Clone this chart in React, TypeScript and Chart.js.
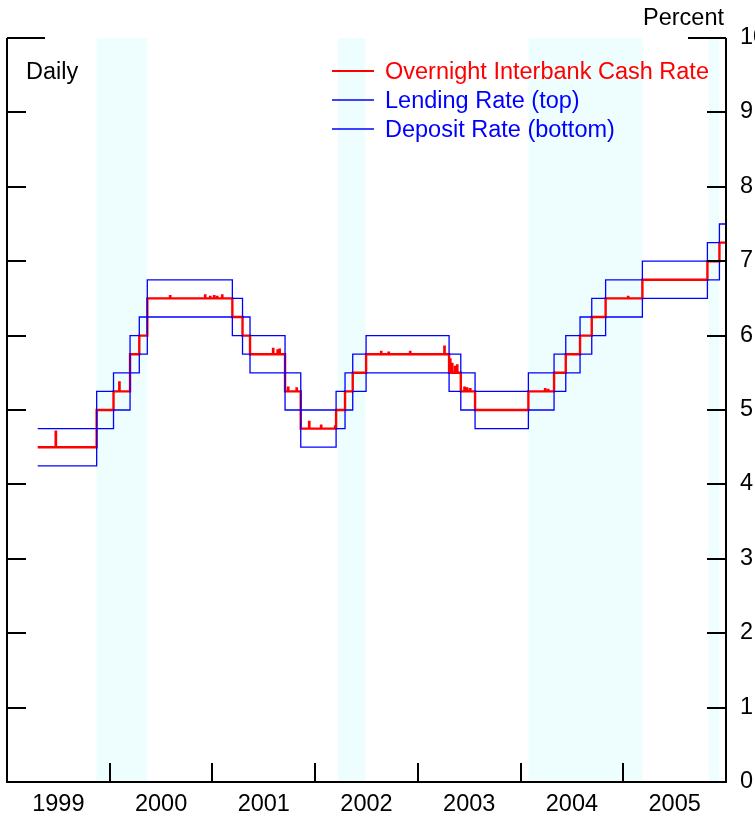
import React, { useEffect, useRef } from "react";
import { Chart, registerables } from "chart.js";

Chart.register(...registerables);

// Step-change dates (decimal years) and the rates that apply from each date
const stepDates = [1999.299, 1999.873, 2000.037, 2000.198, 2000.288, 2000.366, 2001.194, 2001.293, 2001.366, 2001.707, 2001.86, 2002.204, 2002.291, 2002.366, 2002.496, 2003.304, 2003.418, 2003.557, 2004.076, 2004.326, 2004.44, 2004.579, 2004.693, 2004.828, 2005.186, 2005.819, 2005.936, 2005.991];
const cashRate = [4.5, 5.0, 5.25, 5.75, 6.0, 6.5, 6.25, 6.0, 5.75, 5.25, 4.75, 5.0, 5.25, 5.5, 5.75, 5.5, 5.25, 5.0, 5.25, 5.5, 5.75, 6.0, 6.25, 6.5, 6.75, 7.0, 7.25, 7.25];
const lendingRate = [4.75, 5.25, 5.5, 6.0, 6.25, 6.75, 6.5, 6.25, 6.0, 5.5, 5.0, 5.25, 5.5, 5.75, 6.0, 5.75, 5.5, 5.25, 5.5, 5.75, 6.0, 6.25, 6.5, 6.75, 7.0, 7.25, 7.5, 7.5];
const depositRate = [4.25, 4.75, 5.0, 5.5, 5.75, 6.25, 6.0, 5.75, 5.5, 5.0, 4.5, 4.75, 5.0, 5.25, 5.5, 5.25, 5.0, 4.75, 5.0, 5.25, 5.5, 5.75, 6.0, 6.25, 6.5, 6.75, 7.0, 7.0];

// Daily spikes in the overnight cash rate
const spikeDates = [1999.474, 2000.093, 2000.587, 2000.928, 2000.977, 2001.016, 2001.045, 2001.094, 2001.59, 2001.634, 2001.653, 2001.736, 2001.819, 2001.941, 2002.057, 2002.194, 2002.642, 2002.715, 2002.924, 2003.258, 2003.314, 2003.333, 2003.362, 2003.382, 2003.453, 2003.479, 2003.509, 2004.238, 2004.267, 2005.046];
const spikePeaks = [4.71, 5.37, 6.53, 6.54, 6.52, 6.53, 6.52, 6.54, 5.82, 5.8, 5.81, 5.3, 5.29, 4.84, 4.79, 4.78, 5.78, 5.77, 5.78, 5.85, 5.68, 5.62, 5.58, 5.6, 5.3, 5.29, 5.28, 5.28, 5.27, 6.52];

// Shaded periods (tightening)
const shadeStart = [1999.87, 2002.22, 2004.076, 2005.83];
const shadeEnd = [2000.366, 2002.49, 2005.186, 2005.935];

const yearLabels = ["1999", "2000", "2001", "2002", "2003", "2004", "2005"];
const yTicks = [0, 1, 2, 3, 4, 5, 6, 7, 8, 9, 10];

const legendLabels = ["Overnight Interbank Cash Rate", "Lending Rate (top)", "Deposit Rate (bottom)"];
const legendColors = ["#ff0000", "#0000ff", "#0000ff"];

const FONT = '23.5px "Liberation Sans", Arial, sans-serif';

function baseAt(d: number): number {
  let v = cashRate[0];
  for (let i = 0; i < stepDates.length; i++) {
    if (stepDates[i] <= d) v = cashRate[i];
  }
  return v;
}

function buildCash() {
  const pts: { x: number; y: number }[] = stepDates.map((d, i) => ({ x: d, y: cashRate[i] }));
  spikeDates.forEach((d, i) => {
    pts.push({ x: d, y: spikePeaks[i] });
    pts.push({ x: d + 0.003, y: baseAt(d) });
  });
  pts.sort((a, b) => a.x - b.x);
  return pts;
}

const decorPlugin = {
  id: "decor",
  beforeDatasetsDraw(chart: any) {
    const { ctx, chartArea, scales } = chart;
    const xs = scales.x;
    ctx.save();
    ctx.fillStyle = "#eefefe";
    shadeStart.forEach((s, i) => {
      const x0 = xs.getPixelForValue(s);
      const x1 = xs.getPixelForValue(shadeEnd[i]);
      ctx.fillRect(x0, chartArea.top, x1 - x0, chartArea.bottom - chartArea.top);
    });
    ctx.restore();
  },
  afterDatasetsDraw(chart: any) {
    const { ctx, chartArea, scales } = chart;
    const xs = scales.x;
    const ys = scales.y;
    const L = chartArea.left;
    const R = chartArea.right;
    const T = chartArea.top;
    const B = chartArea.bottom;
    ctx.save();
    ctx.strokeStyle = "#000";
    ctx.lineWidth = 2;
    ctx.lineCap = "butt";
    ctx.beginPath();
    ctx.moveTo(L, T);
    ctx.lineTo(L, B);
    ctx.lineTo(R, B);
    ctx.lineTo(R, T);
    ctx.stroke();
    // y ticks
    ctx.fillStyle = "#000";
    ctx.font = FONT;
    ctx.textAlign = "left";
    ctx.textBaseline = "alphabetic";
    yTicks.forEach((t) => {
      const y = Math.round(ys.getPixelForValue(t));
      const len = t === 10 ? 38 : 19;
      if (t !== 0) {
        ctx.beginPath();
        ctx.moveTo(L, y);
        ctx.lineTo(L + len, y);
        ctx.moveTo(R, y);
        ctx.lineTo(R - len, y);
        ctx.stroke();
      }
      ctx.fillText(String(t), R + 14, y + 6);
    });
    // x ticks at year boundaries
    yearLabels.forEach((lab, i) => {
      const yr = parseInt(lab, 10);
      if (i > 0) {
        const x = Math.round(xs.getPixelForValue(yr));
        ctx.beginPath();
        ctx.moveTo(x, B);
        ctx.lineTo(x, B - 19);
        ctx.stroke();
      }
      ctx.textAlign = "center";
      ctx.fillText(lab, xs.getPixelForValue(yr + 0.5), B + 29);
    });
    // titles
    ctx.textAlign = "right";
    ctx.fillText("Percent", R - 2, 25);
    ctx.textAlign = "left";
    ctx.fillText("Daily", L + 19, 79);
    // legend
    legendLabels.forEach((lab, i) => {
      const y = 71 + i * 29;
      ctx.strokeStyle = legendColors[i];
      ctx.lineWidth = i === 0 ? 2 : 1.5;
      ctx.beginPath();
      ctx.moveTo(332, y);
      ctx.lineTo(374, y);
      ctx.stroke();
      ctx.fillStyle = legendColors[i];
      ctx.fillText(lab, 385, y + 8);
    });
    ctx.restore();
  },
};

export default function App() {
  const ref = useRef<HTMLCanvasElement | null>(null);
  useEffect(() => {
    if (!ref.current) return;
    const chart = new Chart(ref.current, {
      type: "line",
      data: {
        datasets: [
          {
            label: "Lending Rate (top)",
            data: stepDates.map((d, i) => ({ x: d, y: lendingRate[i] })),
            borderColor: "#0000ff",
            borderWidth: 1.3,
            pointRadius: 0,
            stepped: "before",
            fill: false,
          },
          {
            label: "Deposit Rate (bottom)",
            data: stepDates.map((d, i) => ({ x: d, y: depositRate[i] })),
            borderColor: "#0000ff",
            borderWidth: 1.3,
            pointRadius: 0,
            stepped: "before",
            fill: false,
          },
          {
            label: "Overnight Interbank Cash Rate",
            data: buildCash(),
            borderColor: "#ff0000",
            borderWidth: 2.4,
            pointRadius: 0,
            stepped: "before",
            fill: false,
          },
        ],
      },
      options: {
        animation: false,
        responsive: false,
        maintainAspectRatio: false,
        devicePixelRatio: 1,
        parsing: false,
        normalized: true,
        layout: { padding: { left: 7, right: 29, top: 38, bottom: 38 } },
        plugins: { legend: { display: false }, tooltip: { enabled: false } },
        scales: {
          x: { type: "linear", min: 1999, max: 2006, display: false },
          y: { type: "linear", min: 0, max: 10, display: false },
        },
      },
      plugins: [decorPlugin],
    });
    return () => chart.destroy();
  }, []);
  return (
    <div style={{ position: "fixed", left: 0, top: 0, width: 755, height: 820, background: "#fff" }}>
      <canvas ref={ref} width={755} height={820} style={{ display: "block" }} />
    </div>
  );
}
